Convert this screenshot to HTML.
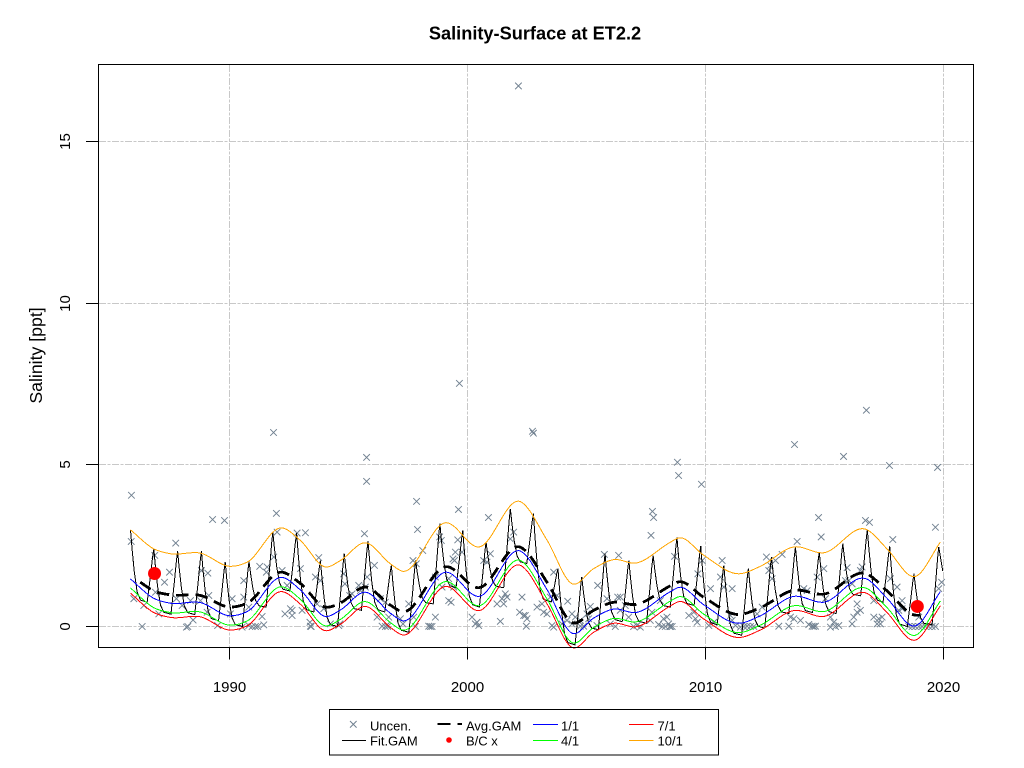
<!DOCTYPE html>
<html lang="en">
<head>
<meta charset="utf-8">
<title>Salinity-Surface at ET2.2</title>
<style>
html,body{margin:0;padding:0;background:#fff;width:1024px;height:768px;overflow:hidden}
svg{display:block}
text{font-family:"Liberation Sans",Arial,sans-serif;fill:#000}
#grid,#series,#axes,.crisp{shape-rendering:crispEdges}
circle{shape-rendering:geometricPrecision}
</style>
</head>
<body>
<svg id="chart" xmlns="http://www.w3.org/2000/svg" width="1024" height="768" viewBox="0 0 1024 768">
  <text x="535" y="39.5" text-anchor="middle" font-size="18.2" font-weight="bold">Salinity-Surface at ET2.2</text>
  <text transform="translate(42,355.5) rotate(-90)" text-anchor="middle" font-size="17.7">Salinity [ppt]</text>
  <g id="grid"></g>
  <g id="points"></g>
  <g id="series"></g>
  <g id="axes"></g>
  <rect class="crisp" x="98.5" y="64.5" width="875" height="583" fill="none" stroke="#000" stroke-width="1"/>
  <g>
    <rect class="crisp" x="329.5" y="709.5" width="389" height="45.5" fill="#fff" stroke="#000" stroke-width="1"/>
    <g>
      <path d="M350 721 L356.6 727.6 M356.6 721 L350 727.6" stroke="#708090" stroke-width="1" fill="none"/>
      <text x="370" y="730.5" font-size="13">Uncen.</text>
    </g>
    <g>
      <line class="crisp" x1="342" y1="740.5" x2="366" y2="740.5" stroke="#000" stroke-width="1"/>
      <text x="370" y="745.5" font-size="13">Fit.GAM</text>
    </g>
    <g>
      <line class="crisp" x1="437.5" y1="724" x2="462" y2="724" stroke="#000" stroke-width="2.4" stroke-dasharray="13 7"/>
      <text x="466" y="730.5" font-size="13">Avg.GAM</text>
    </g>
    <g>
      <circle cx="449" cy="740" r="2.8" fill="#f00"/>
      <text x="466" y="745.5" font-size="13">B/C x</text>
    </g>
    <g>
      <line class="crisp" x1="533" y1="724.5" x2="558" y2="724.5" stroke="#00f" stroke-width="1"/>
      <text x="561" y="730.5" font-size="13">1/1</text>
    </g>
    <g>
      <line class="crisp" x1="533" y1="740.5" x2="558" y2="740.5" stroke="#0f0" stroke-width="1"/>
      <text x="561" y="745.5" font-size="13">4/1</text>
    </g>
    <g>
      <line class="crisp" x1="629" y1="724.5" x2="653.5" y2="724.5" stroke="#f00" stroke-width="1"/>
      <text x="657.5" y="730.5" font-size="13">7/1</text>
    </g>
    <g>
      <line class="crisp" x1="629" y1="740.5" x2="653.5" y2="740.5" stroke="#ffa500" stroke-width="1"/>
      <text x="657.5" y="745.5" font-size="13">10/1</text>
    </g>
  </g>
</svg>
<script>
var xTickValues = [1990, 2000, 2010, 2020];
var yTickValues = [0, 5, 10, 15];

var curveYears = [1985.84,1986.82,1987.52,1988.78,1990.04,1990.74,1992.2,1992.98,1994.03,1994.66,1995.71,1996.76,1997.26,1999.08,2000.48,2002.23,2003.35,2004.4,2005.3,2006.15,2007.06,2008.53,2008.88,2009.93,2011.4,2012.3,2013.7,2014.96,2016.8,2017.63,2018.82,2019.87];
var oct1Values = [2.99,2.40,2.25,2.27,1.86,1.99,3.05,2.66,1.84,2.04,2.59,1.94,1.71,3.21,2.46,3.86,2.66,1.32,1.79,2.07,1.96,2.61,2.74,2.2,1.63,1.86,2.46,2.28,2.99,2.40,1.55,2.61];
var jan1Values = [1.47,.87,.72,.74,.33,.46,1.52,1.13,.31,.51,1.06,.41,.18,1.68,.93,2.33,1.13,-.21,.26,.54,.43,1.08,1.21,.67,.10,.33,.93,.75,1.46,.87,.02,1.08];
var apr1Values = [1.19,.58,.43,.45,.04,.17,1.23,.84,.02,.22,.77,.12,-.11,1.39,.64,2.04,.84,-.50,-.03,.25,.14,.79,.92,.38,-.19,.04,.64,.46,1.17,.58,-.27,.79];
var jul1Values = [1.03,.43,.28,.30,-.11,.02,1.08,.69,-.13,.07,.62,-.03,-.26,1.24,.49,1.89,.69,-.65,-.18,.10,-.01,.64,.77,.23,-.34,-.11,.49,.31,1.02,.43,-.42,.64];

var avgYears = [1986.25,1986.82,1987.52,1988.78,1990.04,1990.74,1992.2,1992.98,1994.03,1994.66,1995.71,1996.76,1997.26,1999.08,2000.48,2002.23,2003.35,2004.4,2005.3,2006.15,2007.06,2008.53,2008.88,2009.93,2011.4,2012.3,2013.7,2014.96,2016.8,2017.63,2018.82,2019.0];
var avgValues = [1.37,1.1,.98,.96,.6,.72,1.68,1.33,.6,.73,1.22,.66,.46,1.85,1.2,2.45,1.36,.12,.5,.75,.68,1.26,1.38,.9,.37,.58,1.12,1.0,1.62,1.1,.35,.35];

var fitPeakYears = [1985.84,1986.82,1987.82,1988.82,1989.82,1990.82,1991.82,1992.82,1993.82,1994.82,1995.82,1996.8,1997.82,1998.84,1999.8,2000.78,2001.8,2002.77,2003.8,2004.8,2005.78,2006.78,2007.8,2008.8,2009.8,2010.77,2011.8,2012.77,2013.78,2014.78,2015.77,2016.8,2017.74,2018.76,2019.8];
var fitPeakValues = [2.99,2.40,2.33,2.33,1.99,2.01,2.92,2.89,2.04,2.25,2.64,1.89,2.04,3.18,2.97,2.61,3.64,3.49,1.79,1.53,2.25,2.04,2.2,2.75,2.49,1.89,1.79,2.15,2.46,2.3,2.56,2.99,2.48,1.63,2.46];
var fitTroughValues = [.75,.38,.37,.18,0,.6,1.1,.45,0,.5,.45,-.18,.7,1.2,.6,1.2,1.95,.76,-.57,-.1,.15,.1,.6,.65,.05,-.27,-.05,.4,.43,.4,.95,.75,0,.05];
var fitEndYear = 2019.97;
var fitEndValue = 1.71;
var fallLag = [.07,.16,.28,.42];
var fallShare = [.72,.42,.14,.03];
var riseLead = [.28,.14,.05];
var riseShare = [0,.5,.85];

var bcYears = [1986.85, 2018.9];
var bcValues = [1.64, .62];

var pointYears = [
2002.14,1999.66,1991.85,1995.76,1995.76,2002.73,2002.77,2016.76,2013.74,2015.8,2008.82,2008.87,2009.83,2017.73,2019.75,1985.88,1997.86,1989.29,1989.79,1991.97,1999.62,2000.88,2007.77,2007.82,2014.75,1997.9,2016.72,2016.89,2019.66,
1985.87,1987.74,1986.86,1987.48,1987.27,1985.98,1986.4,1987.03,1986.33,1986.89,1987.77,1988.01,1988.36,1988.25,1988.19,1988.47,1988.82,1989.09,1988.78,1989.06,1989.13,1989.5,
1990.11,1990.04,1990.6,1990.6,1990.81,1990.81,1990.53,1990.95,1991.09,1991.19,1991.44,1991.37,1992,1992.84,1993.19,1991.27,1991.58,1991.55,1991.86,1992.21,1992.98,
1992.33,1992.63,1992.56,1992.63,1992.42,1993.05,1993.38,1993.43,1993.4,1993.75,1993.61,1993.82,1993.68,1993.96,1994.24,1994.59,1994.64,1994.8,1994.85,1995.05,1995.15,1995.43,1995.5,
1995.67,1996.09,1995.78,1995.71,1996.34,1996.55,1996.2,1996.41,1996.55,1996.62,1996.69,
2007.71,1998.83,1998.9,1999.59,1998.12,1997.71,1997.85,1999.49,1999.39,1999.45,1999.77,2000.96,2000.68,2000.82,2001.94,2001.8,
1998.65,1999.21,1998.93,1999.42,2001.59,2001.45,2001.66,2001.24,2001.52,1999.21,1999.31,2002.29,2002.92,2003.13,2003.2,2002.19,2002.36,2002.5,2002.43,2003.34,2003.76,2004.21,2003.48,2003.62,
1998.65,2001.38,2000.19,2000.33,2000.47,2000.4,1998.37,1998.44,1998.51,1996.65,1997.18,1997.29,1997.53,1997.74,1997.81,2002.47,2003.55,2003.62,2003.97,
2004.39,2004.53,2004.18,2004.39,2004.74,2005.16,2005.09,2005.02,2005.44,2004.88,2004.74,2005.47,2005.75,2006.35,2006.31,2006.42,2006.63,2005.86,
2006.42,2006.77,2007.12,2007.26,2006.98,2006,2006.21,2007.75,2008.1,2007.68,2008.03,2008.38,2008.24,2008.31,2008.45,2008.5,
2012.56,2012.94,2013.22,2014.86,2017.87,2013.85,2008.7,2009.86,2010.7,2010.63,2010.77,2011.12,2010.21,2009.68,2012.73,2012.66,2012.8,2014.69,2014.97,2015.95,2016.02,2015.88,2016.16,2016.58,2016.51,2017.77,2018.05,2018.26,2019.8,2019.92,
2009.3,2009.51,2009.65,2009.58,2008.18,2008.53,2008.6,2010.14,2010.35,2011.05,2011.12,2011.26,2011.47,2011.61,2011.75,2011.89,2012.03,2012.38,2012.17,2013.08,2013.5,2013.57,2013.71,2014.13,2014.27,
2013.99,2014.34,2014.48,2014.55,2014.62,2015.04,2015.25,2015.39,2015.46,2015.6,2015.25,2016.37,2016.51,2016.37,2016.23,2016.16,2017.07,2017.07,2017.28,2017.42,2017.35,2017.21,2018.26,2018.12,
2018.54,2018.68,2018.82,2018.96,2019.1,2019.24,2019.38,2019.52,2019.66,2018.96
];
var pointValues = [
16.72,7.52,6,5.23,4.49,6.04,5.98,6.69,5.63,5.26,5.08,4.67,4.4,4.98,4.92,4.06,3.87,3.31,3.28,3.5,3.62,3.37,3.56,3.37,3.37,3,3.28,3.22,3.07,
2.63,2.58,2.2,1.68,1.37,.86,.65,.39,0,1.06,.86,.65,.8,0,-.02,.2,1.73,1.65,.8,.44,.96,.03,
.86,.39,1.42,.91,.6,.03,-.02,0,0,0,.05,.31,2.92,2.89,2.9,1.86,1.84,1.68,2.15,1.73,1.79,
.39,.5,.55,.34,1.27,.5,.13,0,.01,2.13,1.53,1.42,.7,.55,.08,.03,.08,1.63,1.32,.96,1.01,1.27,1.11,
2.87,1.89,1.53,1.22,.86,.75,.29,.01,0,.05,.29,
2.82,2.77,2.66,2.68,2.35,2.04,1.94,2.3,2.09,2.04,2.3,2.25,2.04,1.99,2.92,2.71,
1.53,1.48,1.22,1.22,1.01,.86,.91,.7,.7,.8,.75,.91,.6,.7,.44,.44,.34,.24,.34,.39,.96,.78,.91,1.68,
.29,.16,.29,.08,.03,.13,.01,0,0,0,.24,.08,.7,.29,0,.01,.03,-.02,.08,
.39,.29,.19,.08,.19,.62,.24,.39,.03,.01,.01,1.27,2.23,2.2,.91,.91,.65,.86,
.5,.29,.03,-.02,0,.08,0,.44,.8,.19,.06,.29,.24,0,.08,0,
2.15,2.04,2.23,2.77,2.69,2.63,2.17,2.04,2.04,1.53,1.22,1.17,1.17,1.63,1.89,1.73,1.48,1.53,1.79,1.82,1.42,1.42,1.32,1.84,1.73,1.48,1.22,.8,1.17,1.37,
.34,.44,.13,.24,0,0,0,.03,.13,.34,.19,.03,-.02,0,.01,0,0,.6,.39,.01,.01,.29,.24,1.17,1.11,
.19,.06,.01,0,.01,.86,.29,.13,0,.03,-.02,.7,.5,.44,.29,.08,.8,.29,.24,.29,.08,.08,.55,.5,
0,0,0,0,0,0,0,0,0,.29
];

var SVGNS = 'http://www.w3.org/2000/svg';
function xScale(year) { return 229.5 + (year - 1990) * 23.8; }
function yScale(value) { return 626.5 - value * 32.33; }
function snap(px) { return Math.floor(px) + 0.5; }
function make(tag, parent) {
  var el = document.createElementNS(SVGNS, tag);
  parent.appendChild(el);
  return el;
}
function smoothPath(xs, ys) {
  var n = xs.length, slopes = [], d = '';
  for (var i = 0; i < n; i++) {
    if (i === 0) slopes.push((ys[1] - ys[0]) / (xs[1] - xs[0]));
    else if (i === n - 1) slopes.push((ys[n-1] - ys[n-2]) / (xs[n-1] - xs[n-2]));
    else {
      var h0 = xs[i] - xs[i-1], h1 = xs[i+1] - xs[i];
      var s0 = (ys[i] - ys[i-1]) / h0, s1 = (ys[i+1] - ys[i]) / h1;
      slopes.push((s0 * h1 + s1 * h0) / (h0 + h1));
    }
  }
  d = 'M' + xScale(xs[0]).toFixed(2) + ' ' + yScale(ys[0]).toFixed(2);
  for (var k = 0; k < n - 1; k++) {
    var h = xs[k+1] - xs[k];
    d += ' C' + xScale(xs[k] + h / 3).toFixed(2) + ' ' + yScale(ys[k] + slopes[k] * h / 3).toFixed(2) +
         ' ' + xScale(xs[k+1] - h / 3).toFixed(2) + ' ' + yScale(ys[k+1] - slopes[k+1] * h / 3).toFixed(2) +
         ' ' + xScale(xs[k+1]).toFixed(2) + ' ' + yScale(ys[k+1]).toFixed(2);
  }
  return d;
}

var gridG = document.getElementById('grid');
var axesG = document.getElementById('axes');
xTickValues.forEach(function (t) {
  var px = snap(xScale(t));
  var gl = make('line', gridG);
  
  
  gl.setAttribute('x1', px); gl.setAttribute('x2', px);
  gl.setAttribute('y1', 65); gl.setAttribute('y2', 647);
  gl.setAttribute('stroke', '#c8c8c8');
  gl.setAttribute('stroke-dasharray', '7 1.5 3 1.5');
  var tk = make('line', axesG);
  
  
  tk.setAttribute('x1', px); tk.setAttribute('x2', px);
  tk.setAttribute('y1', 647.5); tk.setAttribute('y2', 659.5);
  tk.setAttribute('stroke', '#000');
  var lb = make('text', axesG);
  
  
  lb.setAttribute('x', px); lb.setAttribute('y', 692);
  lb.setAttribute('text-anchor', 'middle');
  lb.setAttribute('font-size', '15');
  lb.textContent = t;
});
yTickValues.forEach(function (t) {
  var py = snap(yScale(t));
  var gl = make('line', gridG);
  
  
  gl.setAttribute('x1', 99); gl.setAttribute('x2', 973);
  gl.setAttribute('y1', py); gl.setAttribute('y2', py);
  gl.setAttribute('stroke', '#c8c8c8');
  gl.setAttribute('stroke-dasharray', '7 1.5 3 1.5');
  var tk = make('line', axesG);
  
  
  tk.setAttribute('x1', 86); tk.setAttribute('x2', 98.5);
  tk.setAttribute('y1', py); tk.setAttribute('y2', py);
  tk.setAttribute('stroke', '#000');
  var lb = make('text', axesG);
  
  
  lb.setAttribute('transform', 'translate(70,' + py + ') rotate(-90)');
  lb.setAttribute('text-anchor', 'middle');
  lb.setAttribute('font-size', '15');
  lb.textContent = t;
});

var pointsG = document.getElementById('points');
for (var p = 0; p < pointYears.length; p++) {
  var cx = xScale(pointYears[p]), cy = yScale(pointValues[p]), r = 3.3;
  var mark = make('path', pointsG);
  
  
  mark.setAttribute('d', 'M' + (cx - r) + ' ' + (cy - r) + ' L' + (cx + r) + ' ' + (cy + r) + ' M' + (cx + r) + ' ' + (cy - r) + ' L' + (cx - r) + ' ' + (cy + r));
  mark.setAttribute('stroke', '#708090');
  mark.setAttribute('stroke-width', '0.95');
  mark.setAttribute('fill', 'none');
}

var seriesG = document.getElementById('series');

var fitD = 'M' + xScale(fitPeakYears[0]).toFixed(2) + ' ' + yScale(fitPeakValues[0]).toFixed(2);
for (var i = 0; i < fitTroughValues.length; i++) {
  var base = fitTroughValues[i], pk = fitPeakValues[i], nextPk = fitPeakValues[i + 1];
  for (var a = 0; a < fallLag.length; a++) {
    fitD += ' L' + xScale(fitPeakYears[i] + fallLag[a]).toFixed(2) + ' ' + yScale(base + fallShare[a] * (pk - base)).toFixed(2);
  }
  for (var b = 0; b < riseLead.length; b++) {
    fitD += ' L' + xScale(fitPeakYears[i + 1] - riseLead[b]).toFixed(2) + ' ' + yScale(base + riseShare[b] * (nextPk - base)).toFixed(2);
  }
  fitD += ' L' + xScale(fitPeakYears[i + 1]).toFixed(2) + ' ' + yScale(nextPk).toFixed(2);
}
fitD += ' L' + xScale(fitEndYear).toFixed(2) + ' ' + yScale(fitEndValue).toFixed(2);
var fitLine = make('path', seriesG);


fitLine.setAttribute('d', fitD);
fitLine.setAttribute('fill', 'none');
fitLine.setAttribute('stroke', '#000');
fitLine.setAttribute('stroke-width', '1');

var avgLine = make('path', seriesG);


avgLine.setAttribute('d', smoothPath(avgYears, avgValues));
avgLine.setAttribute('fill', 'none');
avgLine.setAttribute('stroke', '#000');
avgLine.setAttribute('stroke-width', '2.8');
avgLine.setAttribute('stroke-dasharray', '12.5 7');

var janLine = make('path', seriesG);


janLine.setAttribute('d', smoothPath(curveYears, jan1Values));
janLine.setAttribute('fill', 'none');
janLine.setAttribute('stroke', '#00f');
janLine.setAttribute('stroke-width', '1');

var aprLine = make('path', seriesG);


aprLine.setAttribute('d', smoothPath(curveYears, apr1Values));
aprLine.setAttribute('fill', 'none');
aprLine.setAttribute('stroke', '#0f0');
aprLine.setAttribute('stroke-width', '1');

var julLine = make('path', seriesG);


julLine.setAttribute('d', smoothPath(curveYears, jul1Values));
julLine.setAttribute('fill', 'none');
julLine.setAttribute('stroke', '#f00');
julLine.setAttribute('stroke-width', '1');

var octLine = make('path', seriesG);


octLine.setAttribute('d', smoothPath(curveYears, oct1Values));
octLine.setAttribute('fill', 'none');
octLine.setAttribute('stroke', '#ffa500');
octLine.setAttribute('stroke-width', '1');

for (var c = 0; c < bcYears.length; c++) {
  var dot = make('circle', seriesG);
  
  
  dot.setAttribute('cx', xScale(bcYears[c]));
  dot.setAttribute('cy', yScale(bcValues[c]));
  dot.setAttribute('r', '6.5');
  dot.setAttribute('fill', '#f00');
}
</script>
</body>
</html>
